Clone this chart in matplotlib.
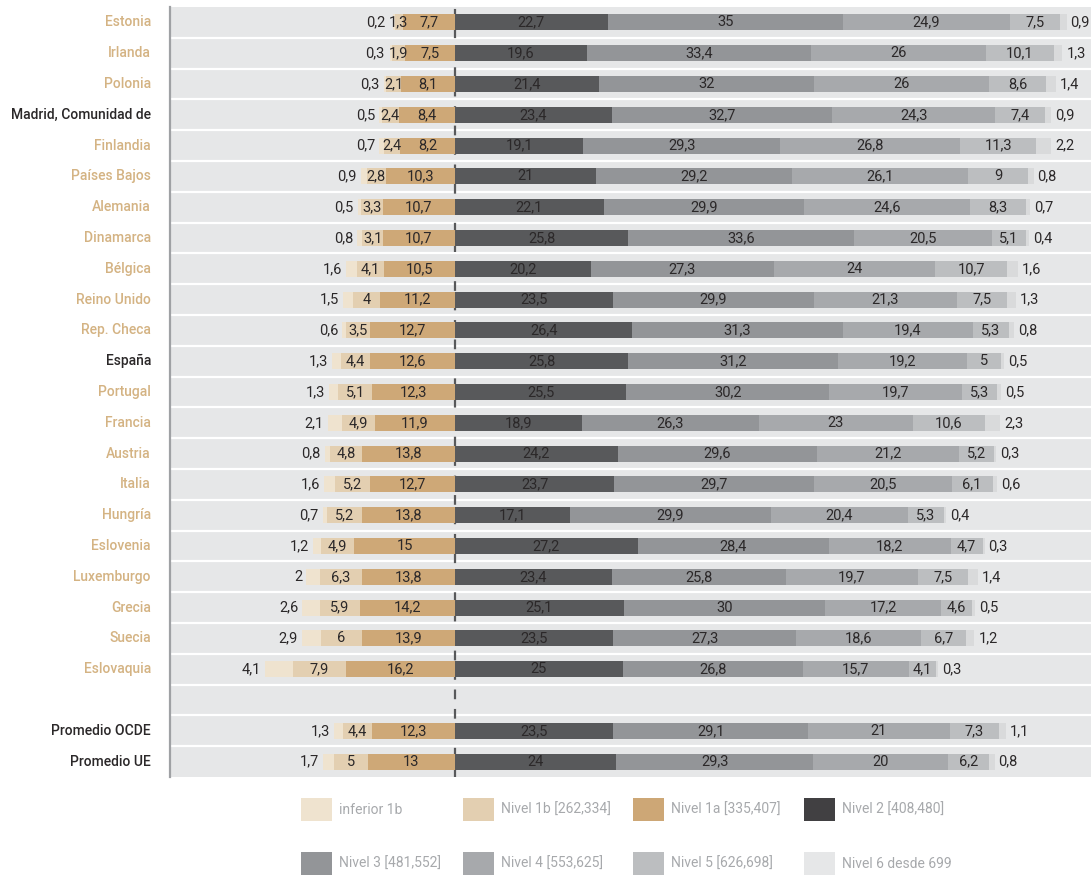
import numpy as np
import matplotlib
matplotlib.use("Agg")
import matplotlib.pyplot as plt
from matplotlib import font_manager as fm
from matplotlib.patches import Rectangle

# ---------------- data ----------------
countries = ["Estonia", "Irlanda", "Polonia", "Madrid, Comunidad de", "Finlandia",
             "Países Bajos", "Alemania", "Dinamarca", "Bélgica", "Reino Unido",
             "Rep. Checa", "España", "Portugal", "Francia", "Austria", "Italia",
             "Hungría", "Eslovenia", "Luxemburgo", "Grecia", "Suecia", "Eslovaquia",
             "", "Promedio OCDE", "Promedio UE"]
highlight = ["Madrid, Comunidad de", "España", "Promedio OCDE", "Promedio UE"]

inferior_1b = [0.2, 0.3, 0.3, 0.5, 0.7, 0.9, 0.5, 0.8, 1.6, 1.5, 0.6, 1.3, 1.3, 2.1, 0.8,
               1.6, 0.7, 1.2, 2, 2.6, 2.9, 4.1, None, 1.3, 1.7]
nivel_1b = [1.3, 1.9, 2.1, 2.4, 2.4, 2.8, 3.3, 3.1, 4.1, 4, 3.5, 4.4, 5.1, 4.9, 4.8,
            5.2, 5.2, 4.9, 6.3, 5.9, 6, 7.9, None, 4.4, 5]
nivel_1a = [7.7, 7.5, 8.1, 8.4, 8.2, 10.3, 10.7, 10.7, 10.5, 11.2, 12.7, 12.6, 12.3, 11.9, 13.8,
            12.7, 13.8, 15, 13.8, 14.2, 13.9, 16.2, None, 12.3, 13]
nivel_2 = [22.7, 19.6, 21.4, 23.4, 19.1, 21, 22.1, 25.8, 20.2, 23.5, 26.4, 25.8, 25.5, 18.9, 24.2,
           23.7, 17.1, 27.2, 23.4, 25.1, 23.5, 25, None, 23.5, 24]
nivel_3 = [35, 33.4, 32, 32.7, 29.3, 29.2, 29.9, 33.6, 27.3, 29.9, 31.3, 31.2, 30.2, 26.3, 29.6,
           29.7, 29.9, 28.4, 25.8, 30, 27.3, 26.8, None, 29.1, 29.3]
nivel_4 = [24.9, 26, 26, 24.3, 26.8, 26.1, 24.6, 20.5, 24, 21.3, 19.4, 19.2, 19.7, 23, 21.2,
           20.5, 20.4, 18.2, 19.7, 17.2, 18.6, 15.7, None, 21, 20]
nivel_5 = [7.5, 10.1, 8.6, 7.4, 11.3, 9, 8.3, 5.1, 10.7, 7.5, 5.3, 5, 5.3, 10.6, 5.2,
           6.1, 5.3, 4.7, 7.5, 4.6, 6.7, 4.1, None, 7.3, 6.2]
nivel_6 = [0.9, 1.3, 1.4, 0.9, 2.2, 0.8, 0.7, 0.4, 1.6, 1.3, 0.8, 0.5, 0.5, 2.3, 0.3,
           0.6, 0.4, 0.3, 1.4, 0.5, 1.2, 0.3, None, 1.1, 0.8]

legend_labels = ["inferior 1b", "Nivel 1b [262,334]", "Nivel 1a [335,407]", "Nivel 2 [408,480]",
                 "Nivel 3 [481,552]", "Nivel 4 [553,625]", "Nivel 5 [626,698]", "Nivel 6 desde 699"]

# ---------------- style ----------------
bar_colors = ["#efe3cf", "#e3cfb1", "#cea877", "#58595b", "#939598", "#a7a9ac", "#bcbec0", "#d9dadb"]
legend_colors = ["#efe3cf", "#e3cfb1", "#cda776", "#414042", "#939598", "#a7a9ac", "#bcbec0", "#e6e7e8"]
TAN = "#d4b383"
DARK = "#2b2829"
LEG_TXT = "#a7a9ac"

names = {f.name for f in fm.fontManager.ttflist}
CAT_W = "normal"
if "Liberation Sans Narrow" in names:
    FONT = "Liberation Sans Narrow"
    VAL_FS, CAT_FS, LEG_FS = 10.5, 12, 11.5
elif "Roboto" in names:
    FONT = "Roboto"
    VAL_FS, CAT_FS, LEG_FS = 10.5, 10, 10
    CAT_W = "medium"
else:
    FONT = "DejaVu Sans"
    VAL_FS, CAT_FS, LEG_FS = 9, 9.5, 9.5
plt.rcParams["font.family"] = [FONT, "DejaVu Sans"]
plt.rcParams["lines.scale_dashes"] = False

W, H = 1091, 875
fig = plt.figure(figsize=(W / 100, H / 100), dpi=100)
PX = 6.72  # pixels per unit
x_left_px, x_zero_px, x_right_px = 170, 455, 1091
y_top_px, y_bot_px = 7, 777
ax = fig.add_axes([x_left_px / W, 1 - y_bot_px / H, (x_right_px - x_left_px) / W,
                   (y_bot_px - y_top_px) / H])
ax.set_xlim(-(x_zero_px - x_left_px) / PX, (x_right_px - x_zero_px) / PX)
n = len(countries)
ax.set_ylim(n - 0.5, -0.5)
ax.set_facecolor("#e6e7e8")
for s in ["top", "right", "bottom"]:
    ax.spines[s].set_visible(False)
ax.spines["left"].set_color("#9fa1a4")
ax.spines["left"].set_linewidth(1.6)
ax.set_xticks([])
ax.set_yticks([])

for k in range(1, n):
    ax.axhline(k - 0.5, color="white", lw=1.6, zorder=1)

ax.axvline(0, color="#58595b", lw=1.6, linestyle=(0, (7, 7)), zorder=2)

BH = 0.52
fig.canvas.draw()
renderer = fig.canvas.get_renderer()
gap = 4 / PX

def tw(t):
    bb = t.get_window_extent(renderer=renderer)
    return bb.width / PX

def fmt(v):
    return ("%g" % v).replace(".", ",")

for i, name in enumerate(countries):
    if name:
        ax.text(-(x_zero_px - 151) / PX, i, name, ha="right", va="center",
                fontsize=CAT_FS, fontweight=CAT_W,
                color=DARK if name in highlight else TAN, clip_on=False)
    if inferior_1b[i] is None:
        continue
    a, b, c = inferior_1b[i], nivel_1b[i], nivel_1a[i]
    # left part (negative direction)
    ax.barh(i, -c, left=0, height=BH, color=bar_colors[2], zorder=3, lw=0)
    ax.barh(i, -b, left=-c, height=BH, color=bar_colors[1], zorder=3, lw=0)
    ax.barh(i, -a, left=-(b + c), height=BH, color=bar_colors[0], zorder=3, lw=0)
    ax.text(-c / 2, i, fmt(c), ha="center", va="center", fontsize=VAL_FS, color=DARK, zorder=5)
    t1b = ax.text(-(c + b / 2), i, fmt(b), ha="center", va="center", fontsize=VAL_FS,
                  color=DARK, zorder=5)
    w1b = tw(t1b)
    xr = min(-(a + b + c) - gap, -(c + b / 2) - w1b / 2 - gap)
    ax.text(xr, i, fmt(a), ha="right", va="center", fontsize=VAL_FS, color=DARK, zorder=5)
    # right part
    vals = [nivel_2[i], nivel_3[i], nivel_4[i], nivel_5[i], nivel_6[i]]
    cum = 0
    for j, v in enumerate(vals):
        ax.barh(i, v, left=cum, height=BH, color=bar_colors[3 + j], zorder=3, lw=0)
        if j < 4:
            ax.text(cum + v / 2, i, fmt(v), ha="center", va="center", fontsize=VAL_FS,
                    color=DARK, zorder=5)
        else:
            ax.text(cum + v + gap, i, fmt(v), ha="left", va="center", fontsize=VAL_FS,
                    color=DARK, zorder=5, clip_on=False)
        cum += v

# ---------------- legend ----------------
col_x = [301, 463, 633, 804]
row_y = [798, 852]
sw, sh = 31, 23
for k, (lab, col) in enumerate(zip(legend_labels, legend_colors)):
    r, cidx = divmod(k, 4)
    x0, y0 = col_x[cidx], row_y[r]
    fig.patches.append(Rectangle((x0 / W, 1 - (y0 + sh) / H), sw / W, sh / H,
                                 transform=fig.transFigure, color=col, lw=0))
    fig.text((x0 + 38) / W, 1 - (y0 + sh / 2) / H, lab, ha="left", va="center",
             fontsize=LEG_FS, color=LEG_TXT)

fig.savefig("out.png", dpi=100)
